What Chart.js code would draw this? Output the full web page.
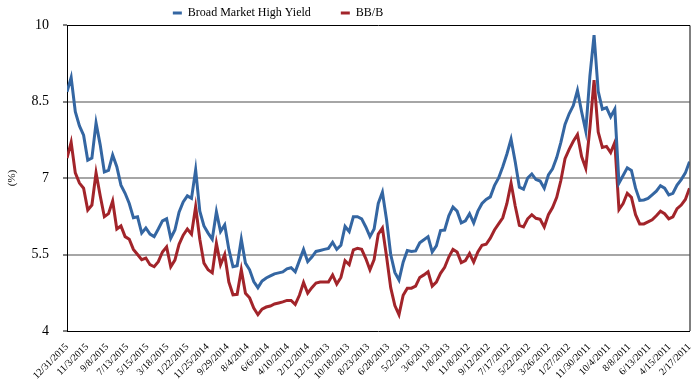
<!DOCTYPE html>
<html>
<head>
<meta charset="utf-8">
<script src="https://cdn.jsdelivr.net/npm/chart.js@4.4.1/dist/chart.umd.min.js"></script>
<style>
  html, body { margin: 0; padding: 0; background: #fff; }
  #wrap { width: 700px; height: 382px; }
</style>
</head>
<body>
<div id="wrap"><canvas id="chart"></canvas></div>
<script>
// Tick labels along the bottom, newest date on the left
const tickLabels = ['12/31/2015', '11/3/2015', '9/8/2015', '7/13/2015', '5/15/2015', '3/18/2015',
  '1/22/2015', '11/25/2014', '9/29/2014', '8/4/2014', '6/6/2014', '4/10/2014', '2/12/2014',
  '12/13/2013', '10/18/2013', '8/23/2013', '6/28/2013', '5/2/2013', '3/6/2013', '1/8/2013',
  '11/8/2012', '9/12/2012', '7/17/2012', '5/22/2012', '3/26/2012', '1/27/2012', '11/30/2011',
  '10/4/2011', '8/8/2011', '6/13/2011', '4/15/2011', '2/17/2011'];

// Yields (%), left to right
const broadMarket = [
  8.69, 8.97, 8.3, 8.02, 7.84, 7.35, 7.39, 8.08, 7.65, 7.12,
  7.15, 7.45, 7.22, 6.86, 6.7, 6.5, 6.22, 6.24, 5.92, 6.02,
  5.9, 5.85, 6.0, 6.16, 6.2, 5.82, 5.98, 6.33, 6.53, 6.65,
  6.6, 7.16, 6.35, 6.06, 5.92, 5.8, 6.34, 5.95, 6.08, 5.6,
  5.26, 5.28, 5.8, 5.33, 5.2, 4.97, 4.85, 4.98, 5.04, 5.08,
  5.12, 5.14, 5.16, 5.22, 5.24, 5.16, 5.38, 5.6, 5.36, 5.45,
  5.56, 5.58, 5.6, 5.62, 5.74, 5.6, 5.68, 6.05, 5.95, 6.24,
  6.24, 6.2, 6.04, 5.85, 6.0, 6.5, 6.72, 6.18, 5.5, 5.15,
  5.0, 5.35, 5.58, 5.56, 5.57, 5.73, 5.79, 5.85, 5.55, 5.67,
  5.97, 5.98, 6.26, 6.43, 6.35, 6.12, 6.16, 6.3, 6.12, 6.35,
  6.5, 6.58, 6.63, 6.85, 7.0, 7.22, 7.47, 7.76, 7.32, 6.82,
  6.78, 7.0, 7.08, 6.97, 6.94, 6.8, 7.06, 7.18, 7.4, 7.7,
  8.05, 8.26, 8.42, 8.72, 8.3, 7.92, 9.0, 9.8, 8.7, 8.35,
  8.38, 8.2, 8.35, 6.9, 7.05, 7.2, 7.15, 6.8, 6.56, 6.57,
  6.6, 6.67, 6.74, 6.85, 6.8, 6.67, 6.7, 6.86, 6.97, 7.1,
  7.32
];
const bbB = [
  7.39, 7.7, 7.1, 6.9, 6.8, 6.37, 6.47, 7.1, 6.65, 6.24,
  6.3, 6.55, 6.0, 6.06, 5.85, 5.8, 5.6, 5.5, 5.4, 5.43,
  5.3, 5.26, 5.36, 5.55, 5.65, 5.26, 5.39, 5.7, 5.88, 6.0,
  5.9, 6.44, 5.8, 5.33, 5.2, 5.14, 5.72, 5.3, 5.5, 4.96,
  4.71, 4.72, 5.2, 4.74, 4.65, 4.45, 4.32, 4.43, 4.47, 4.49,
  4.53, 4.55, 4.57, 4.6, 4.6, 4.52, 4.7, 4.95, 4.74, 4.85,
  4.94, 4.96, 4.96, 4.96, 5.1, 4.92, 5.05, 5.38, 5.3, 5.59,
  5.62, 5.6, 5.42, 5.2, 5.4, 5.9, 6.02, 5.46, 4.85, 4.5,
  4.32, 4.7, 4.84, 4.84, 4.88, 5.05, 5.1, 5.16, 4.88, 4.96,
  5.13, 5.25, 5.45, 5.6, 5.55, 5.34, 5.38, 5.52, 5.35, 5.55,
  5.68, 5.7, 5.82, 5.98, 6.1, 6.22, 6.5, 6.9, 6.45, 6.07,
  6.04, 6.2, 6.28, 6.21, 6.19, 6.04, 6.28, 6.42, 6.62, 6.95,
  7.38, 7.56, 7.72, 7.85, 7.42, 7.19, 7.98, 8.92, 7.9, 7.6,
  7.62, 7.5, 7.7, 6.38, 6.5, 6.7, 6.62, 6.28, 6.1, 6.1,
  6.14, 6.18, 6.26, 6.35, 6.3, 6.2, 6.24, 6.4, 6.47, 6.58,
  6.8
];
const yTicks = [4, 5.5, 7, 8.5, 10];

const BLUE = '#3466a2';
const RED = '#a2242a';
const lastIndex = broadMarket.length - 1;

// top and right frame lines of the plot box
const frame = {
  id: 'frame',
  afterDraw(chart) {
    const { ctx, chartArea: a } = chart;
    ctx.save();
    ctx.strokeStyle = '#000';
    ctx.lineWidth = 1;
    ctx.beginPath();
    ctx.moveTo(a.left, a.top + 0.5);
    ctx.lineTo(a.right + 0.5, a.top + 0.5);
    ctx.lineTo(a.right + 0.5, a.bottom);
    ctx.stroke();
    ctx.restore();
  }
};

// legend sits left of centre in the original
const legendShift = {
  id: 'legendShift',
  afterLayout(chart) {
    const l = chart.legend;
    l.left -= 68;
    l.right -= 68;
    l.top -= 23;
  }
};

new Chart(document.getElementById('chart'), {
  type: 'line',
  data: {
    datasets: [{
      label: 'Broad Market High Yield',
      data: broadMarket.map((y, i) => ({ x: i, y })),
      borderColor: BLUE,
      backgroundColor: BLUE,
      borderWidth: 3,
      pointRadius: 0,
      tension: 0
    }, {
      label: 'BB/B',
      data: bbB.map((y, i) => ({ x: i, y })),
      borderColor: RED,
      backgroundColor: RED,
      borderWidth: 3,
      pointRadius: 0,
      tension: 0
    }]
  },
  options: {
    responsive: true,
    maintainAspectRatio: false,
    animation: false,
    layout: { padding: { right: 8 } },
    plugins: {
      tooltip: { enabled: false },
      legend: {
        position: 'top',
        maxHeight: 25,
        labels: {
          boxWidth: 9,
          boxHeight: 3,
          padding: 30,
          color: '#000',
          font: { family: 'Liberation Serif', size: 12 },
          generateLabels: chart => Chart.defaults.plugins.legend.labels.generateLabels(chart)
            .map(item => Object.assign(item, { lineWidth: 0 }))
        }
      }
    },
    scales: {
      x: {
        type: 'linear',
        min: 0,
        max: lastIndex,
        afterBuildTicks: scale => {
          scale.ticks = tickLabels.map((_, j) => ({ value: j * lastIndex / (tickLabels.length - 1) }));
        },
        afterFit: scale => { scale.height = 51; },
        grid: { display: false },
        border: { color: '#000', width: 1 },
        ticks: {
          autoSkip: false,
          minRotation: 45,
          maxRotation: 45,
          padding: 2,
          color: '#000',
          font: { family: 'Liberation Serif', size: 10 },
          callback: (value, index) => tickLabels[index]
        }
      },
      y: {
        min: 4,
        max: 10,
        afterBuildTicks: scale => {
          scale.ticks = yTicks.map(v => ({ value: v }));
        },
        afterFit: scale => { scale.width = 67; },
        grid: {
          color: c => (c.tick && (c.tick.value === 4 || c.tick.value === 10)) ? 'rgba(0,0,0,0)' : '#a6a6a6',
          lineWidth: 2,
          tickColor: '#000',
          tickLength: 4,
          tickWidth: 1
        },
        border: { color: '#000', width: 1 },
        title: {
          display: true,
          text: '(%)',
          color: '#000',
          padding: { top: 6, bottom: 0 },
          font: { family: 'Liberation Serif', size: 11 }
        },
        ticks: {
          padding: 14,
          color: '#000',
          font: { family: 'Liberation Serif', size: 14 },
          callback: v => String(v)
        }
      }
    }
  },
  plugins: [frame, legendShift]
});
</script>
</body>
</html>
